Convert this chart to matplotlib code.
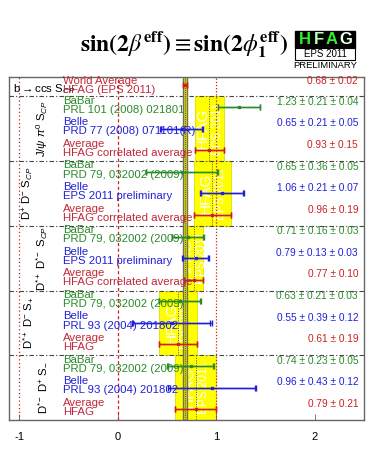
import numpy as np
import matplotlib.pyplot as plt
from matplotlib.patches import Rectangle

plt.rcParams['font.family'] = ['Liberation Sans', 'DejaVu Sans']
plt.rcParams['mathtext.fontset'] = 'custom'
plt.rcParams['mathtext.rm'] = 'Liberation Sans'
plt.rcParams['mathtext.it'] = 'Liberation Sans:italic'
plt.rcParams['mathtext.bf'] = 'Liberation Sans:bold'

# --- data -------------------------------------------------------------
world_avg = 0.68
world_err = 0.02

sections = ['J/$\\psi$ $\\pi^0$ S$_{CP}$',
            'D$^{+}$ D$^{-}$ S$_{CP}$',
            'D$^{*+}$ D$^{*-}$ S$_{CP}$',
            'D$^{*+}$ D$^{-}$ S$_{+}$',
            'D$^{*-}$ D$^{+}$ S$_{-}$']

babar_ref = ['PRL 101 (2008) 021801', 'PRD 79, 032002 (2009)',
             'PRD 79, 032002 (2009)', 'PRD 79, 032002 (2009)',
             'PRD 79, 032002 (2009)']
babar_val = [1.23, 0.65, 0.71, 0.63, 0.74]
babar_stat = [0.21, 0.36, 0.16, 0.21, 0.23]
babar_syst = [0.04, 0.05, 0.03, 0.03, 0.05]

belle_ref = ['PRD 77 (2008) 071101(R)', 'EPS 2011 preliminary',
             'EPS 2011 preliminary', 'PRL 93 (2004) 201802',
             'PRL 93 (2004) 201802']
belle_val = [0.65, 1.06, 0.79, 0.55, 0.96]
belle_stat = [0.21, 0.21, 0.13, 0.39, 0.43]
belle_syst = [0.05, 0.07, 0.03, 0.12, 0.12]

avg_ref = ['HFAG correlated average', 'HFAG correlated average',
           'HFAG correlated average', 'HFAG', 'HFAG']
avg_val = [0.93, 0.96, 0.77, 0.61, 0.79]
avg_err = [0.15, 0.19, 0.10, 0.19, 0.21]

# --- styling ----------------------------------------------------------
GREEN = '#2a8a2a'
BLUE = '#2020d8'
RED = '#cc2020'
DRED = '#c0283a'
W, H = 374, 467


def fx(px):
    return px / W


def fy(py):
    return 1 - py / H


fig = plt.figure(figsize=(W / 100, H / 100), dpi=100)
ax = fig.add_axes([fx(9.3), 47 / H, (364 - 9.3) / W, 343 / H])
x0, x1 = -1.1, 2.5
top_h = 0.9
sec_h = 3.0
y_end = top_h + sec_h * len(sections)
ax.set_xlim(x0, x1)
ax.set_ylim(y_end, 0)


def draw_bar(c, stat, syst, y, color):
    tot = np.hypot(stat, syst)
    ax.errorbar(c, y, xerr=tot, fmt='s', ms=2, color=color, lw=1,
                capsize=2, capthick=1, zorder=6)
    ax.errorbar(c, y, xerr=stat, fmt='none', color=color, lw=1,
                capsize=2, capthick=1, zorder=6)


# reference lines
ax.axvline(-1, color=RED, lw=0.9, ls=(0, (1, 2)), zorder=2)
ax.axvline(0, color=RED, lw=0.9, ls=(0, (2.5, 2)), zorder=2)
ax.axvline(1, color=RED, lw=0.9, ls=(0, (1, 1.5)), zorder=2)

# world average row
ax.text(-1.06, 0.55, 'b$\\rightarrow$ccs S$_{CP}$', fontsize=8.2,
        va='center', ha='left', color='black', zorder=7)
ax.text(-0.555, 0.2, 'World Average', fontsize=8.2, color=DRED,
        va='center', zorder=7)
ax.text(-0.555, 0.58, 'HFAG (EPS 2011)', fontsize=8.2, color=DRED,
        va='center', zorder=7)
ax.text(2.44, 0.2, f'{world_avg:.2f} ± {world_err:.2f}', fontsize=7.3,
        color=RED, ha='right', va='center', zorder=7)

for k, name in enumerate(sections):
    s = top_h + sec_h * k
    c, e = avg_val[k], avg_err[k]
    ax.axhline(s, color='#444444', lw=0.8, ls=(0, (4, 2, 1, 2)), zorder=2)
    ax.add_patch(Rectangle((c - e, s), 2 * e, sec_h, fc='#ffff00',
                           ec='#dede00', lw=0.6, zorder=1))
    ax.plot([c, c], [s, s + sec_h], color='#555533', lw=0.7,
            ls=(0, (1, 1.5)), zorder=1.5)
    ax.text(c - 0.065, s + 1.5, 'HFAG', rotation=90, color='white',
            fontsize=11, ha='center', va='center', zorder=1.6)
    ax.text(c + 0.085, s + 1.5, 'EPS 2011', rotation=90, color='white',
            fontsize=8.5, ha='center', va='center', zorder=1.6)

    lab_x = -0.77 if k % 2 == 0 else -0.91
    ax.text(lab_x, s + 1.5, name, rotation=90, fontsize=8.2,
            ha='center', va='center', zorder=7)

    rows = [('BaBar', babar_ref[k], GREEN,
             f'{babar_val[k]:.2f} ± {babar_stat[k]:.2f} ± {babar_syst[k]:.2f}'),
            ('Belle', belle_ref[k], BLUE,
             f'{belle_val[k]:.2f} ± {belle_stat[k]:.2f} ± {belle_syst[k]:.2f}'),
            ('Average', avg_ref[k], DRED,
             f'{avg_val[k]:.2f} ± {avg_err[k]:.2f}')]
    for j, (who, ref, col, txt) in enumerate(rows):
        y = s + 0.5 + j
        ax.text(-0.555, y - 0.3, who, fontsize=8.2, color=col,
                va='center', zorder=7)
        ax.text(-0.555, y + 0.12, ref, fontsize=8.2, color=col,
                va='center', zorder=7)
        ax.text(2.44, y - 0.25, txt, fontsize=7.3,
                color=RED if j == 2 else col, ha='right', va='center',
                zorder=7)

    draw_bar(babar_val[k], babar_stat[k], babar_syst[k], s + 0.5, GREEN)
    draw_bar(belle_val[k], belle_stat[k], belle_syst[k], s + 1.5, BLUE)
    draw_bar(avg_val[k], avg_err[k], 0.0, s + 2.5, RED)

# world average band over everything
ax.add_patch(Rectangle((world_avg - world_err, 0), 2 * world_err, y_end,
                       fc='#d8d800', ec='#707060', lw=1.0, zorder=3))
ax.plot([world_avg, world_avg], [0, y_end], color='#333333', lw=0.6,
        ls=(0, (1, 1.5)), zorder=3.5)
draw_bar(world_avg, world_err, 0.0, 0.37, RED)

# axes cosmetics
for sp in ax.spines.values():
    sp.set_color('#666666')
    sp.set_linewidth(1.0)
ax.set_yticks([])
ax.set_xticks([-1, 0, 1, 2])
ax.set_xticklabels(['-1', '0', '1', '2'])
ax.tick_params(axis='x', direction='in', length=4, width=0.6,
               color='#666666', labelsize=8, pad=9)

# title
fig.text(fx(184), fy(45),
         r'$\mathbf{sin(2}\beta^{\mathbf{eff}}\mathbf{)} \equiv '
         r'\mathbf{sin(2}\phi_{\mathbf{1}}^{\mathbf{eff}}\mathbf{)}$',
         fontsize=17, ha='center', va='center', math_fontfamily='stix')

# HFAG logo
fig.add_artist(Rectangle((fx(295), fy(47.7)), fx(60), 16.7 / H,
                         transform=fig.transFigure, fc='black', ec='black'))
fig.add_artist(Rectangle((fx(295), fy(60)), fx(60), 12.3 / H,
                         transform=fig.transFigure, fc='white', ec='black',
                         lw=0.8))
for i, (ch, col) in enumerate(zip('HFAG', ['#33ee33', '#bbffbb', '#33ee33', '#eeffee'])):
    fig.text(fx(305 + i * 13.5), fy(39.5), ch, color=col, fontsize=12,
             fontweight='bold', ha='center', va='center')
fig.text(fx(325), fy(54), 'EPS 2011', fontsize=7, ha='center', va='center')
fig.text(fx(325), fy(65.5), 'PRELIMINARY', fontsize=6.8, ha='center',
         va='center')

fig.savefig('out.png', dpi=100)
